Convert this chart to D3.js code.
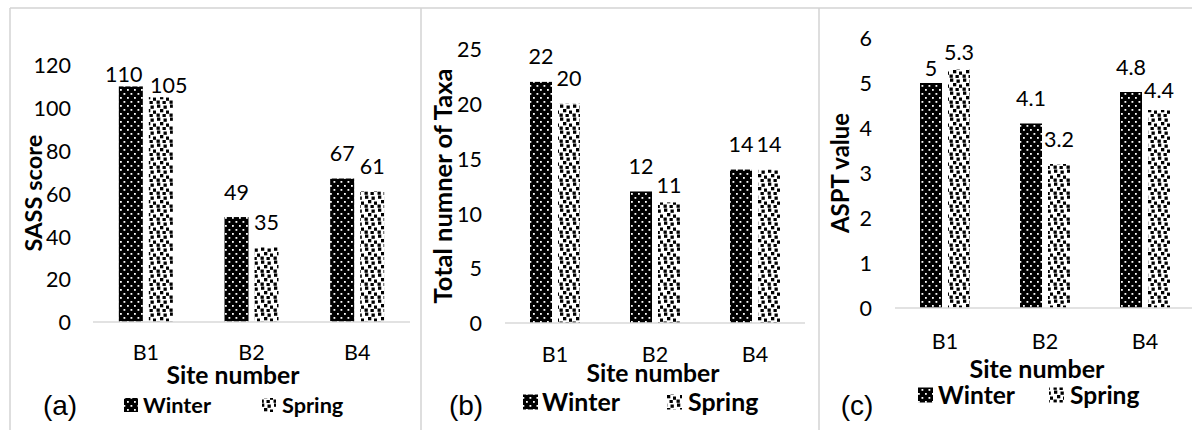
<!DOCTYPE html>
<html>
<head>
<meta charset="utf-8">
<script src="https://cdn.jsdelivr.net/npm/d3@7/dist/d3.min.js"></script>
<style>
  html, body { margin: 0; padding: 0; background: #fff; }
  svg { display: block; }
  text { font-family: Lato, "Open Sans", sans-serif; fill: #000; }
</style>
</head>
<body>
<svg id="chart" width="1192" height="430"></svg>
<script>
// ---- data ----
const categories = ["B1", "B2", "B4"];
const seriesNames = ["Winter", "Spring"];

const sassWinter = [110, 49, 67];
const sassSpring = [105, 35, 61];
const taxaWinter = [22, 12, 14];
const taxaSpring = [20, 11, 14];
const asptWinter = [5, 4.1, 4.8];
const asptSpring = [5.3, 3.2, 4.4];

const sassTicks = [0, 20, 40, 60, 80, 100, 120];
const taxaTicks = [0, 5, 10, 15, 20, 25];
const asptTicks = [0, 1, 2, 3, 4, 5, 6];

const yTitles = ["SASS score", "Total numner of Taxa", "ASPT value"];
const xTitle = "Site number";
const panelLetters = ["(a)", "(b)", "(c)"];

// ---- layout of the three panels ----
const panels = [
  { values: [sassWinter, sassSpring], ticks: sassTicks, yTitle: yTitles[0], letter: panelLetters[0],
    x0: 93, x1: 410, yBase: 322, yTop: 65, barW: 24, gap: 6,
    tickRight: 71, catY: 353, xTitleX: 233, xTitleY: 383, xTitleLen: 133,
    yTitleX: 33, yTitleY: 193, yTitleLen: 117,
    legendY: 405, legendLen: 68, swatch: 14, legendX: [124, 143, 262, 282], letterX: 60, letterY: 405,
    nudges: { "0-0": [-7, 13], "0-1": [8, 13] } },
  { values: [taxaWinter, taxaSpring], ticks: taxaTicks, yTitle: yTitles[1], letter: panelLetters[1],
    x0: 505, x1: 805, yBase: 323, yTop: 49, barW: 22, gap: 6,
    tickRight: 482, catY: 355, xTitleX: 653, xTitleY: 381, xTitleLen: 133,
    yTitleX: 443, yTitleY: 186, yTitleLen: 235,
    legendY: 402, legendLen: 78, swatch: 15, legendX: [523, 542, 667, 688], letterX: 466, letterY: 405,
    nudges: { "1-1": [0, 8] } },
  { values: [asptWinter, asptSpring], ticks: asptTicks, yTitle: yTitles[2], letter: panelLetters[2],
    x0: 895, x1: 1195, yBase: 308, yTop: 38, barW: 22, gap: 6,
    tickRight: 872, catY: 342, xTitleX: 1037, xTitleY: 377, xTitleLen: 135,
    yTitleX: 840, yTitleY: 173, yTitleLen: 120,
    legendY: 395, legendLen: 77, swatch: 15, legendX: [918, 938, 1049, 1070], letterX: 857, letterY: 405,
    nudges: { "0-0": [0, 10], "0-1": [0, 8], "2-1": [0, 5] } }
];

const svg = d3.select("#chart");

// scale a text's font size so that its run length equals len
function fitLength(sel, len) {
  const node = sel.node();
  const size = parseFloat(sel.attr("font-size"));
  const w = node.getComputedTextLength();
  if (w > 0) sel.attr("font-size", (size * len / w).toFixed(2));
  return sel;
}

// ---- fill patterns ----
const defs = svg.append("defs");
// Winter: black with a staggered grid of white dots
const winterPat = defs.append("pattern").attr("id", "pat-winter")
  .attr("patternUnits", "userSpaceOnUse").attr("width", 7).attr("height", 8);
winterPat.append("rect").attr("width", 7).attr("height", 8).attr("fill", "#000");
[[1, 1], [4.5, 5]].forEach(([x, y]) =>
  winterPat.append("rect").attr("x", x).attr("y", y).attr("width", 1.8).attr("height", 1.8).attr("fill", "#fff"));

// Spring: white with scattered black squares (confetti)
const springPat = defs.append("pattern").attr("id", "pat-spring")
  .attr("patternUnits", "userSpaceOnUse").attr("width", 13).attr("height", 13);
springPat.append("rect").attr("width", 13).attr("height", 13).attr("fill", "#fff");
[[1, 0.5], [7.5, 1.5], [4, 5], [10, 6.5], [0.5, 9.5], [6.5, 10]].forEach(([x, y]) =>
  springPat.append("rect").attr("x", x).attr("y", y).attr("width", 3.3).attr("height", 3.3).attr("fill", "#000"));

const fills = ["url(#pat-winter)", "url(#pat-spring)"];

// ---- panel frames ----
const frame = svg.append("g").attr("stroke", "#d3d3d3").attr("stroke-width", 1.5);
frame.append("line").attr("x1", 10).attr("x2", 1192).attr("y1", 8).attr("y2", 8);
[10, 421, 819].forEach(x =>
  frame.append("line").attr("x1", x).attr("x2", x).attr("y1", 8).attr("y2", 430));

// ---- draw each panel ----
panels.forEach(p => {
  const g = svg.append("g");
  const step = (p.x1 - p.x0) / categories.length;
  const groupW = 2 * p.barW + p.gap;
  const pad = 1 - groupW / step;

  const x = d3.scaleBand().domain(categories).range([p.x0, p.x1])
    .paddingInner(pad).paddingOuter(pad / 2);
  const xs = d3.scaleBand().domain(seriesNames).range([0, groupW])
    .paddingInner(p.gap / (p.barW + p.gap)).paddingOuter(0);
  const y = d3.scaleLinear().domain([0, d3.max(p.ticks)]).range([p.yBase, p.yTop]);

  // y tick labels
  const yAxis = d3.axisLeft(y).tickValues(p.ticks).tickFormat(d => String(d))
    .tickSize(0).tickPadding(0);
  const ya = g.append("g").attr("transform", `translate(${p.tickRight},0)`).call(yAxis);
  ya.select(".domain").remove();
  ya.selectAll("text").attr("font-family", "Lato, sans-serif").attr("font-size", 21.5)
    .attr("fill", "#000").attr("dy", "0.36em");

  // category axis
  const xAxis = d3.axisBottom(x).tickSize(0).tickPadding(0);
  const xa = g.append("g").attr("transform", `translate(0,${p.yBase})`).call(xAxis);
  xa.select(".domain").remove();
  xa.selectAll("text").attr("font-family", "Lato, sans-serif").attr("font-size", 21.5)
    .attr("fill", "#000").attr("dy", null).attr("y", p.catY - p.yBase + 7);

  // bars
  seriesNames.forEach((s, si) => {
    g.selectAll(null).data(categories).join("rect")
      .attr("x", c => x(c) + xs(s))
      .attr("width", xs.bandwidth())
      .attr("y", (c, ci) => y(p.values[si][ci]))
      .attr("height", (c, ci) => y(0) - y(p.values[si][ci]))
      .attr("fill", fills[si]);
  });

  // baseline
  g.append("line").attr("x1", p.x0).attr("x2", Math.min(p.x1, 1192))
    .attr("y1", p.yBase).attr("y2", p.yBase)
    .attr("stroke", "#d9d9d9").attr("stroke-width", 1.5);

  // value labels above bars
  seriesNames.forEach((s, si) => {
    g.selectAll(null).data(categories).join("text")
      .attr("x", (c, ci) => x(c) + xs(s) + xs.bandwidth() / 2 + (p.nudges[ci + "-" + si] || [0, 0])[0])
      .attr("y", (c, ci) => y(p.values[si][ci]) - 17.5 + (p.nudges[ci + "-" + si] || [0, 0])[1])
      .attr("text-anchor", "middle").attr("font-size", 21.5)
      .text((c, ci) => p.values[si][ci]);
  });

  // axis titles
  const xt = g.append("text").attr("x", p.xTitleX).attr("y", p.xTitleY + 1)
    .attr("text-anchor", "middle").attr("font-size", 24).attr("font-weight", 700)
    .text(xTitle);
  fitLength(xt, p.xTitleLen);
  const yt = g.append("text")
    .attr("transform", `translate(${p.yTitleX},${p.yTitleY}) rotate(-90)`)
    .attr("text-anchor", "middle").attr("dy", "0.36em")
    .attr("font-size", 24).attr("font-weight", 700)
    .text(p.yTitle);
  fitLength(yt, p.yTitleLen);

  // legend
  const lg = g.append("g");
  const texts = [];
  seriesNames.forEach((s, si) => {
    const sx = p.legendX[si * 2], tx = p.legendX[si * 2 + 1];
    lg.append("rect").attr("x", sx).attr("y", p.legendY - p.swatch / 2)
      .attr("width", p.swatch).attr("height", p.swatch).attr("fill", fills[si]);
    texts.push(lg.append("text").attr("x", tx).attr("y", p.legendY).attr("dy", "0.36em")
      .attr("font-size", 24).attr("font-weight", 700).text(s));
  });
  fitLength(texts[0], p.legendLen);
  texts[1].attr("font-size", texts[0].attr("font-size"));

  // panel letter
  g.append("text").attr("x", p.letterX).attr("y", p.letterY).attr("dy", "0.36em")
    .attr("text-anchor", "middle")
    .style("font-family", "'Liberation Sans', Arial, sans-serif")
    .attr("font-size", 28).text(p.letter);
});
</script>
</body>
</html>
